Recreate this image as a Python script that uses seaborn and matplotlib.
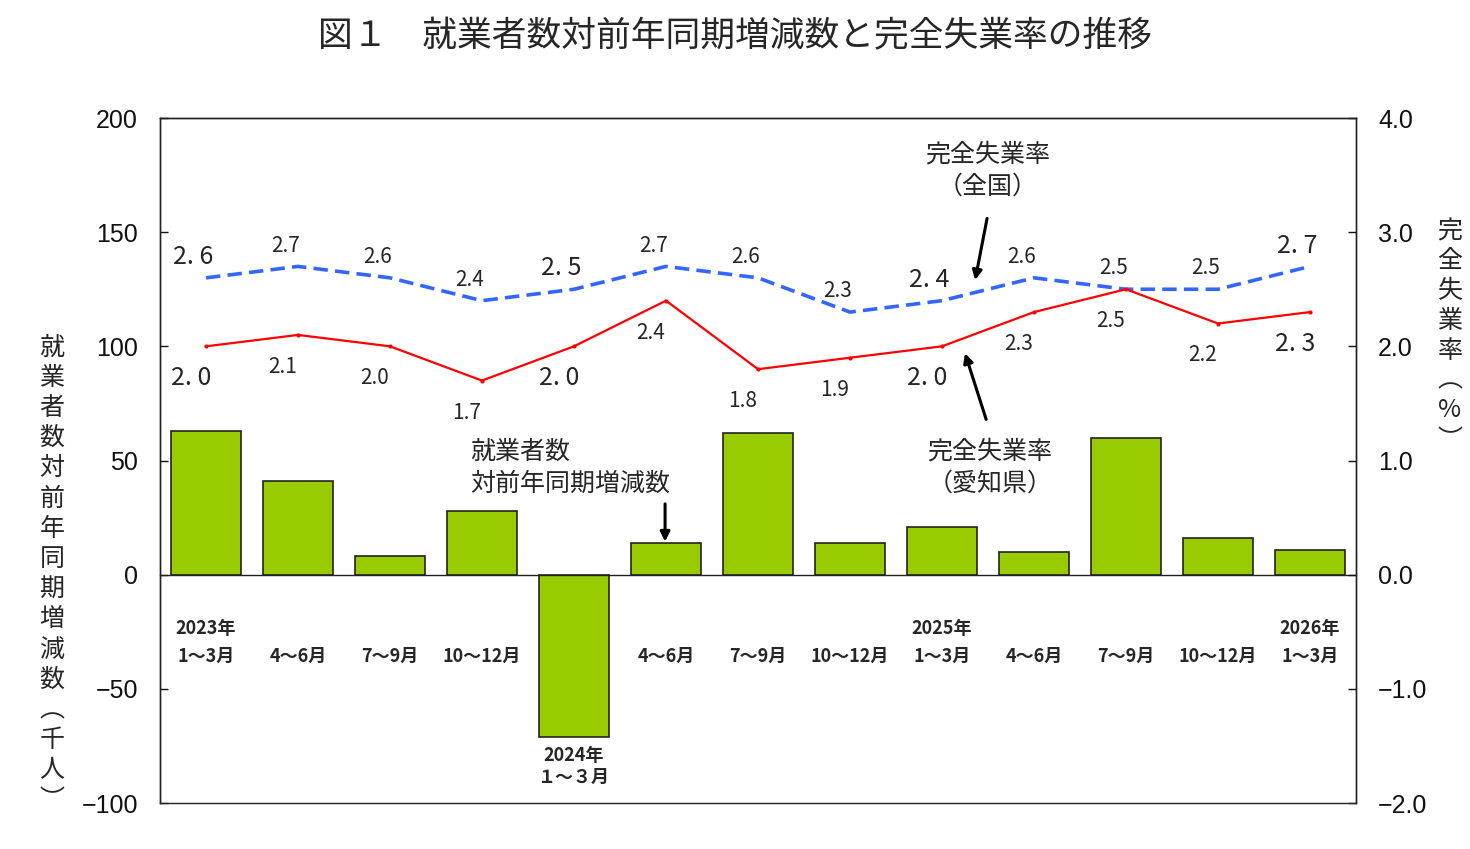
"""
図１ 就業者数対前年同期増減数と完全失業率の推移
"""

import numpy as np
import matplotlib
matplotlib.use('Agg')
import matplotlib.pyplot as plt
import seaborn as sns

# Données
quarters = ['1～3月', '4～6月', '7～9月', '10～12月', '１～３月', '4～6月', '7～9月',
            '10～12月', '1～3月', '4～6月', '7～9月', '10～12月', '1～3月']
years = ['2023年', '', '', '', '2024年', '', '', '', '2025年', '', '', '', '2026年']
employed_change = [63, 41, 8, 28, -71, 14, 62, 14, 21, 10, 60, 16, 11]
rate_national = [2.6, 2.7, 2.6, 2.4, 2.5, 2.7, 2.6, 2.3, 2.4, 2.6, 2.5, 2.5, 2.7]
rate_aichi = [2.0, 2.1, 2.0, 1.7, 2.0, 2.4, 1.8, 1.9, 2.0, 2.3, 2.5, 2.2, 2.3]
labels_national = ['2. 6', '2.7', '2.6', '2.4', '2. 5', '2.7', '2.6', '2.3', '2. 4',
                   '2.6', '2.5', '2.5', '2. 7']
labels_aichi = ['2. 0', '2.1', '2.0', '1.7', '2. 0', '2.4', '1.8', '1.9', '2. 0',
                '2.3', '2.5', '2.2', '2. 3']

JP = ['Noto Sans CJK JP', 'DejaVu Sans']
NUM = ['Liberation Sans', 'DejaVu Sans']

sns.set_theme(style="white")
plt.rcParams['font.family'] = JP
plt.rcParams['axes.unicode_minus'] = True

xs = np.arange(len(employed_change))

fig = plt.figure(figsize=(14.7, 8.49), dpi=100)
ax = fig.add_axes([0.10884, 0.05418, 0.81361, 0.80683])
ax2 = ax.twinx()

# Barres
sns.barplot(x=xs, y=employed_change, color='#99CC00', saturation=1,
            edgecolor='#222222', linewidth=1.2, width=0.77, ax=ax, zorder=2)

# Courbes
sns.lineplot(x=xs, y=rate_national, ax=ax2, color='#3366FF', linewidth=2.6)
sns.lineplot(x=xs, y=rate_aichi, ax=ax2, color='#FF0000', linewidth=1.6,
             marker='o', markersize=3, markeredgewidth=0)
ax2.lines[0].set_dashes((4, 2))

# Axes
ax.set_ylim(-100, 200)
ax2.set_ylim(-2.0, 4.0)
ax.set_xlim(-0.5, len(xs) - 0.5)
ax.set_yticks(np.arange(-100, 201, 50))
ax2.set_yticks(np.arange(-2.0, 4.01, 1.0))
ax2.set_yticklabels([f'{v:.1f}'.replace('-', '\u2212') for v in np.arange(-2.0, 4.01, 1.0)])
ax.set_xticks(xs[:-1] + 0.5)
ax.set_xticklabels([])
ax.set_xlabel('')
ax.set_ylabel('')
ax2.set_ylabel('')

ax.spines['bottom'].set_position(('data', 0))
for a in (ax, ax2):
    for s in a.spines.values():
        s.set_color('#222222')
        s.set_linewidth(1.0)
ax.tick_params(axis='y', direction='in', length=6, width=1, pad=16,
               labelsize=18, colors='#111111')
ax2.tick_params(axis='y', direction='in', length=6, width=1, pad=16,
                labelsize=18, colors='#111111')
ax.tick_params(axis='x', direction='in', length=5, width=1, color='#222222')
for lbl in ax.get_yticklabels() + ax2.get_yticklabels():
    lbl.set_family(NUM)

# Étiquettes des catégories
for i, (q, yr, v) in enumerate(zip(quarters, years, employed_change)):
    if v < 0:
        ax.text(i, v - 4, yr, ha='center', va='top', fontsize=13, fontweight='bold')
        ax.text(i, v - 13.5, q, ha='center', va='top', fontsize=13, fontweight='bold')
    else:
        ax.text(i, -35.9, q, ha='center', va='center', fontsize=13, fontweight='bold')
        if yr:
            ax.text(i, -23.6, yr, ha='center', va='center', fontsize=13,
                    fontweight='bold')

# Valeurs des taux
for i, (v, t) in enumerate(zip(rate_national, labels_national)):
    fs = 18 if ' ' in t else 15
    ax2.annotate(t, (i, v), xytext=(-9, 15), textcoords='offset points',
                 ha='center', va='center', fontsize=fs)
for i, (v, t) in enumerate(zip(rate_aichi, labels_aichi)):
    fs = 18 if ' ' in t else 15
    ax2.annotate(t, (i, v), xytext=(-11, -23), textcoords='offset points',
                 ha='center', va='center', fontsize=fs)

# Annotations
arrow = dict(arrowstyle='-|>', color='black', lw=2.2, mutation_scale=14,
             shrinkA=0, shrinkB=0)
ax.text(8.5, 177, '完全失業率\n（全国）', ha='center', va='center', fontsize=18,
        linespacing=1.3)
ax.annotate('', xy=(8.36, 129), xytext=(8.49, 156), arrowprops=arrow)
ax.text(8.52, 46.8, '完全失業率\n（愛知県）', ha='center', va='center', fontsize=18,
        linespacing=1.3)
ax.annotate('', xy=(8.25, 97), xytext=(8.48, 68), arrowprops=arrow)
ax.text(2.87, 46.8, '就業者数\n対前年同期増減数', ha='left', va='center', fontsize=18,
        linespacing=1.3)
ax.annotate('', xy=(4.99, 14.5), xytext=(4.99, 31), arrowprops=arrow)

# Titres des axes (verticaux)
fig.text(52 / 1470, 1 - 574 / 849, '\n'.join('就業者数対前年同期増減数︵千人︶'),
         ha='center', va='center', fontsize=18, linespacing=1.21)
fig.text(1450 / 1470, 1 - 336 / 849, '\n'.join('完全失業率︵%︶'),
         ha='center', va='center', fontsize=18, linespacing=1.19)

fig.text(735 / 1470, 1 - 37 / 849, '図１　就業者数対前年同期増減数と完全失業率の推移',
         ha='center', va='center', fontsize=25, fontweight='normal')

plt.savefig('out.png', dpi=100)
plt.close()
